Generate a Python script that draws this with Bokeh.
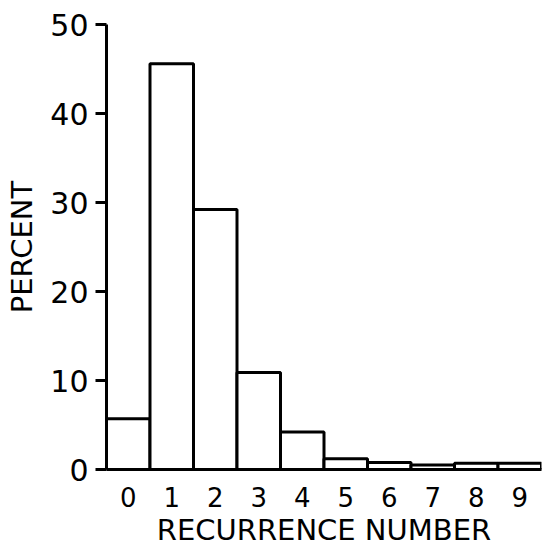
from bokeh.plotting import figure
from bokeh.models import Range1d, FixedTicker
from bokeh.embed import file_html
from bokeh.resources import INLINE

# Data
recurrence = [0, 1, 2, 3, 4, 5, 6, 7, 8, 9]
percent = [5.7, 45.6, 29.2, 10.9, 4.2, 1.2, 0.8, 0.5, 0.7, 0.7]
y_ticks = [0, 10, 20, 30, 40, 50]

FONT = "DejaVu Sans"

p = figure(width=542, height=549, output_backend="svg", toolbar_location=None,
           x_range=Range1d(-0.5, 9.5), y_range=Range1d(0, 50),
           min_border_left=106, min_border_right=1, min_border_top=24,
           min_border_bottom=80)
p.outline_line_color = None
p.grid.visible = False
p.background_fill_color = "white"
p.border_fill_color = "white"

p.vbar(x=recurrence, top=percent, bottom=0, width=1.0,
       fill_color="white", line_color="black", line_width=3)

# y axis
ya = p.yaxis[0]
ya.ticker = FixedTicker(ticks=y_ticks)
ya.axis_line_width = 3
ya.axis_line_color = "black"
ya.major_tick_line_width = 3
ya.major_tick_out = 11
ya.major_tick_in = 0
ya.minor_tick_out = 0
ya.minor_tick_in = 0
ya.major_label_text_font = FONT
ya.major_label_text_font_size = "30px"
ya.major_label_text_color = "black"
ya.major_label_standoff = 7
ya.axis_label = "PERCENT"
ya.axis_label_text_font = FONT
ya.axis_label_text_font_size = "29px"
ya.axis_label_text_font_style = "normal"
ya.axis_label_text_color = "black"
ya.axis_label_standoff = 8

# x axis
xa = p.xaxis[0]
xa.ticker = FixedTicker(ticks=recurrence)
xa.axis_line_width = 3
xa.axis_line_color = "black"
xa.major_tick_out = 0
xa.major_tick_in = 0
xa.minor_tick_out = 0
xa.minor_tick_in = 0
xa.major_label_text_font = FONT
xa.major_label_text_font_size = "26px"
xa.major_label_text_color = "black"
xa.major_label_standoff = 17
xa.axis_label = "RECURRENCE NUMBER"
xa.axis_label_text_font = FONT
xa.axis_label_text_font_size = "29px"
xa.axis_label_text_font_style = "normal"
xa.axis_label_text_color = "black"
xa.axis_label_standoff = 3

open("out.html", "w").write(file_html(p, INLINE))
